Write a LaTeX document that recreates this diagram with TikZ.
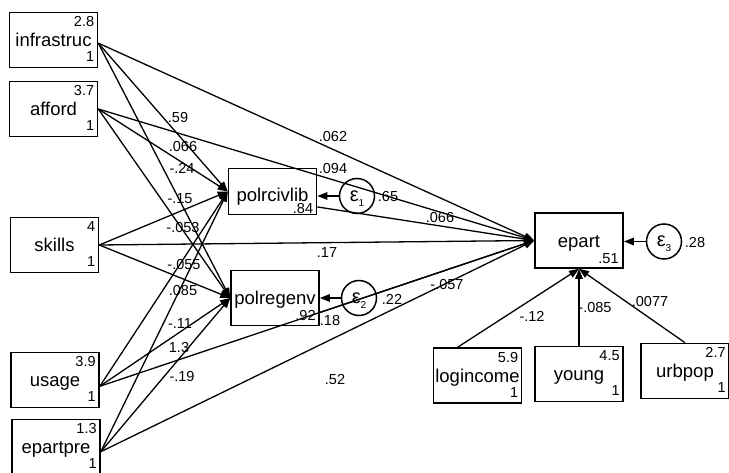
\documentclass[tikz,border=0pt]{standalone}
\usepackage{fontspec}
\setmainfont{Liberation Sans}
\usetikzlibrary{arrows.meta}

% epsilon with a lowered index, smashed so the glyph stays centred
\newcommand\epsvar[1]{{\fontsize{20bp}{22bp}\selectfont ε}\raisebox{-5bp}[0pt][0pt]{\fontsize{10bp}{11bp}\selectfont #1}}

% observed variable: box, name, mean (top right) and variance (bottom right)
\newcommand\obsvar[6]{%
  \node[var] (#1) at (#2,#3) {};
  \node[vname] (#1-name) at ([yshift=-35bp]#1.north) {#4};
  \node[mean] (#1-mean) at ([xshift=-4bp,yshift=-15bp]#1.north east) {#5};
  \node[mean] (#1-var) at ([xshift=-4bp,yshift=6.5bp]#1.south east) {#6};
}

\begin{document}
\begin{tikzpicture}[x=1bp,y=-1bp,
  var/.style={draw, line width=1.6bp, inner sep=0pt, minimum width=88bp, minimum height=55bp},
  vname/.style={font=\fontsize{18.5bp}{20bp}\selectfont, anchor=base, inner sep=0pt},
  num/.style={font=\fontsize{14.5bp}{16bp}\selectfont, inner sep=0pt},
  mean/.style={num, anchor=base east},
  coef/.style={num},
  err/.style={draw, circle, line width=1.5bp, minimum size=35bp, inner sep=0pt},
  path/.style={line width=1.3bp, -{Triangle[length=10bp,width=7.5bp]}},
]
\useasboundingbox (0,0) rectangle (729,473);

% exogenous variables
\obsvar{infrastruc}{53.5}{40}{infrastruc}{2.8}{1}
\obsvar{afford}{53.5}{109}{afford}{3.7}{1}
\obsvar{skills}{54.5}{245}{skills}{4}{1}
\obsvar{usage}{55}{380}{usage}{3.9}{1}
\obsvar{epartpre}{56}{447}{epartpre}{1.3}{1}
\obsvar{logincome}{477.5}{375.5}{logincome}{5.9}{1}
\obsvar{young}{579}{374}{young}{4.5}{1}
\obsvar{urbpop}{685}{371}{urbpop}{2.7}{1}

% endogenous variables
\node[var, minimum height=46bp] (polrcivlib) at (272.5,191.5) {};
\node[vname] (polrcivlib-name) at ([yshift=-34bp]polrcivlib.north) {polrcivlib};
\node[mean] (polrcivlib-icpt) at ([xshift=-4bp,yshift=1.5bp]polrcivlib.south east) {.84};

\node[var] (polregenv) at (275,298) {};
\node[vname] (polregenv-name) at ([yshift=-35bp]polregenv.north) {polregenv};
\node[mean] (polregenv-icpt) at ([xshift=-4bp,yshift=6bp]polregenv.south east) {.92};

\node[var] (epart) at (579,240.5) {};
\node[vname] (epart-name) at ([yshift=-35bp]epart.north) {epart};
\node[mean] (epart-icpt) at ([xshift=-5bp,yshift=5bp]epart.south east) {.51};

% error terms
\node[err] (e1) at (357,196) {\epsvar{1}};
\node[err] (e2) at (359,298) {\epsvar{2}};
\node[err] (e3) at (664,241.5) {\epsvar{3}};

% paths into the mediators and the outcome
\foreach \src/\port in {infrastruc/-4, afford/0, skills/0, usage/-8, epartpre/-6} {
  \draw[path] (\src.\port) -- (polrcivlib.west);
  \draw[path] (\src.\port) -- (polregenv.west);
  \draw[path] (\src.\port) -- (epart.west);
}
\draw[path] (polrcivlib.-19) -- (epart.west);
\draw[path] (polregenv.-18) -- (epart.west);
\draw[path] (logincome.125) -- (epart.south);
\draw[path] (young.north) -- (epart.south);
\draw[path] (urbpop.north) -- (epart.south);

% error paths
\draw[path] (e1) -- (e1 -| polrcivlib.east);
\draw[path] (e2) -- (e2 -| polregenv.east);
\draw[path] (e3) -- (e3 -| epart.east);

% coefficients
\node[coef] (c1) at (178,118) {.59};
\node[coef] (c2) at (183,147) {.066};
\node[coef] (c3) at (182,168) {-.24};
\node[coef] (c4) at (180,199) {-.15};
\node[coef] (c5) at (183,228) {-.053};
\node[coef] (c6) at (184,265) {-.055};
\node[coef] (c7) at (183,291) {.085};
\node[coef] (c8) at (180,324) {-.11};
\node[coef] (c9) at (179,348) {1.3};
\node[coef] (c10) at (182,377) {-.19};
\node[coef] (c11) at (333,137) {.062};
\node[coef] (c12) at (333,169) {.094};
\node[coef] (c13) at (440,218) {.066};
\node[coef] (c14) at (327,253) {.17};
\node[coef] (c15) at (330,321) {.18};
\node[coef] (c16) at (447,285) {-.057};
\node[coef] (c17) at (335,380) {.52};
\node[coef] (c18) at (532,316) {-.12};
\node[coef] (c19) at (595,308) {-.085};
\node[coef] (c20) at (650,302) {.0077};

% error variances
\node[coef] (v1) at (388,197) {.65};
\node[coef] (v2) at (392,299) {.22};
\node[coef] (v3) at (695,243) {.28};
\end{tikzpicture}
\end{document}
